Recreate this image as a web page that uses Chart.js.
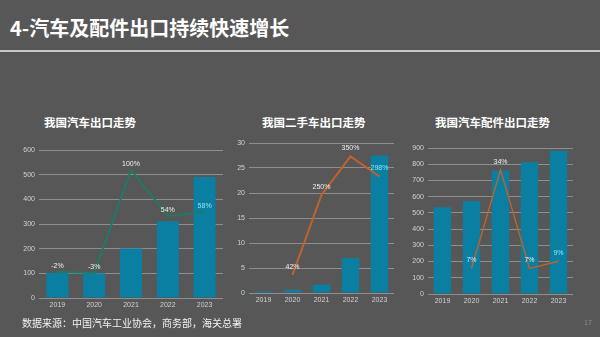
<!DOCTYPE html>
<html>
<head>
<meta charset="utf-8">
<script src="https://cdn.jsdelivr.net/npm/chart.js@4"></script>
<style>
  html, body { margin: 0; padding: 0; }
  body { width: 600px; height: 337px; background: #575757; position: relative; overflow: hidden;
         font-family: "Noto Sans CJK SC", "Noto Sans", sans-serif; }
  .t { position: absolute; color: #fff; white-space: nowrap; }
  #title { left: 10px; top: 18px; font-size: 20px; line-height: 20px; font-weight: bold; }
  #rule { position: absolute; left: 0; top: 50px; width: 600px; height: 2px; background: #c8c8c8; }
  .ct { font-size: 11.5px; line-height: 12px; font-weight: bold; top: 116px; }
  #foot { left: 22px; top: 317px; font-size: 10px; line-height: 11px; color: #f2f2f2; }
  #page { left: 584px; top: 318px; font-size: 7px; line-height: 8px; color: #8a8a8a; }
  canvas { position: absolute; }
</style>
</head>
<body>
<div class="t" id="title">4-汽车及配件出口持续快速增长</div>
<div id="rule"></div>
<div class="t ct" style="left:44px">我国汽车出口走势</div>
<div class="t ct" style="left:262px">我国二手车出口走势</div>
<div class="t ct" style="left:435px">我国汽车配件出口走势</div>
<canvas id="c1" width="232" height="182" style="left:0px;top:138px"></canvas>
<canvas id="c2" width="190" height="185" style="left:214px;top:132px"></canvas>
<canvas id="c3" width="190" height="184" style="left:392px;top:136px"></canvas>
<div class="t" id="foot">数据来源：中国汽车工业协会，商务部，海关总署</div>
<div class="t" id="page">17</div>
<script>
const years = ['2019', '2020', '2021', '2022', '2023'];

// 我国汽车出口 (万辆) and growth %
const carExports = [102, 100, 201, 311, 491];
const carGrowth = [-2, -3, 100, 54, 58];
const carGrowthLabels = ['-2%', '-3%', '100%', '54%', '58%'];

// 我国二手车出口 (万辆) and growth %
const usedExports = [0.3, 0.6, 1.7, 7.0, 27.5];
const usedGrowth = [null, 42, 250, 350, 298];
const usedGrowthLabels = ['', '42%', '250%', '350%', '298%'];

// 我国汽车配件出口 and growth %
const partsExports = [534, 571, 762, 812, 883];
const partsGrowth = [null, 7, 34, 7, 9];
const partsGrowthLabels = ['', '7%', '34%', '7%', '9%'];

const barColor = '#0a7fa2';
const gridColor = '#8e8e8e';
const tickColor = '#d2d2d2';
const tickFont = { family: 'Liberation Sans', size: 7 };

const pointLabels = {
  id: 'pointLabels',
  afterDatasetsDraw(chart, args, opts) {
    const ctx = chart.ctx;
    const meta = chart.getDatasetMeta(1);
    ctx.save();
    ctx.font = '7px "Liberation Sans"';
    ctx.textAlign = 'center';
    ctx.textBaseline = 'middle';
    meta.data.forEach((pt, i) => {
      const txt = opts.labels[i];
      if (!txt || chart.data.datasets[1].data[i] == null) return;
      ctx.fillStyle = opts.colors[i];
      ctx.fillText(txt, pt.x, pt.y - opts.offset);
    });
    ctx.restore();
  }
};

function makeChart(id, bars, line, lineColor, lineWidth, labels, labelColors, yMax, yStep, y1Min, y1Max, pad, yWidth, offset) {
  new Chart(document.getElementById(id), {
    type: 'bar',
    data: {
      labels: years,
      datasets: [
        { type: 'bar', data: bars, backgroundColor: barColor, barPercentage: 0.6, categoryPercentage: 1, order: 2, yAxisID: 'y' },
        { type: 'line', data: line, borderColor: lineColor, borderWidth: lineWidth, pointRadius: 0,
          tension: 0, fill: false, order: 1, yAxisID: 'y1' }
      ]
    },
    options: {
      responsive: false,
      animation: false,
      devicePixelRatio: 1,
      layout: { padding: pad },
      plugins: {
        legend: { display: false },
        tooltip: { enabled: false },
        pointLabels: { labels: labels, colors: labelColors, offset: offset }
      },
      scales: {
        x: {
          grid: { display: false, drawTicks: false },
          border: { display: false },
          ticks: { color: tickColor, font: tickFont, padding: 3, maxRotation: 0 },
          afterFit(s) { s.height = 14; }
        },
        y: {
          min: 0, max: yMax,
          grid: { color: gridColor, lineWidth: 1, drawTicks: false },
          border: { display: false },
          ticks: { stepSize: yStep, color: tickColor, font: tickFont, padding: 4 },
          afterFit(s) { s.width = yWidth; }
        },
        y1: { display: false, min: y1Min, max: y1Max }
      }
    },
    plugins: [pointLabels]
  });
}

makeChart('c1', carExports, carGrowth, '#1f7a68', 2, carGrowthLabels,
  ['#eeeeee', '#eeeeee', '#eeeeee', '#eeeeee', '#8fe4f4'],
  600, 100, -28, 120, { left: 0, right: 9, top: 12, bottom: 8 }, 39, 6);

makeChart('c2', usedExports, usedGrowth, '#c0622c', 2, usedGrowthLabels,
  ['#eeeeee', '#eeeeee', '#eeeeee', '#eeeeee', '#8fe4f4'],
  30, 5, -5, 385, { left: 0, right: 10, top: 11, bottom: 10 }, 35, 8);

makeChart('c3', partsExports, partsGrowth, '#b8642e', 1.5, partsGrowthLabels,
  ['#eeeeee', '#cfeff8', '#eeeeee', '#eeeeee', '#8fe4f4'],
  900, 100, 0, 40, { left: 0, right: 9, top: 12, bottom: 12 }, 36, 8);
</script>
</body>
</html>
